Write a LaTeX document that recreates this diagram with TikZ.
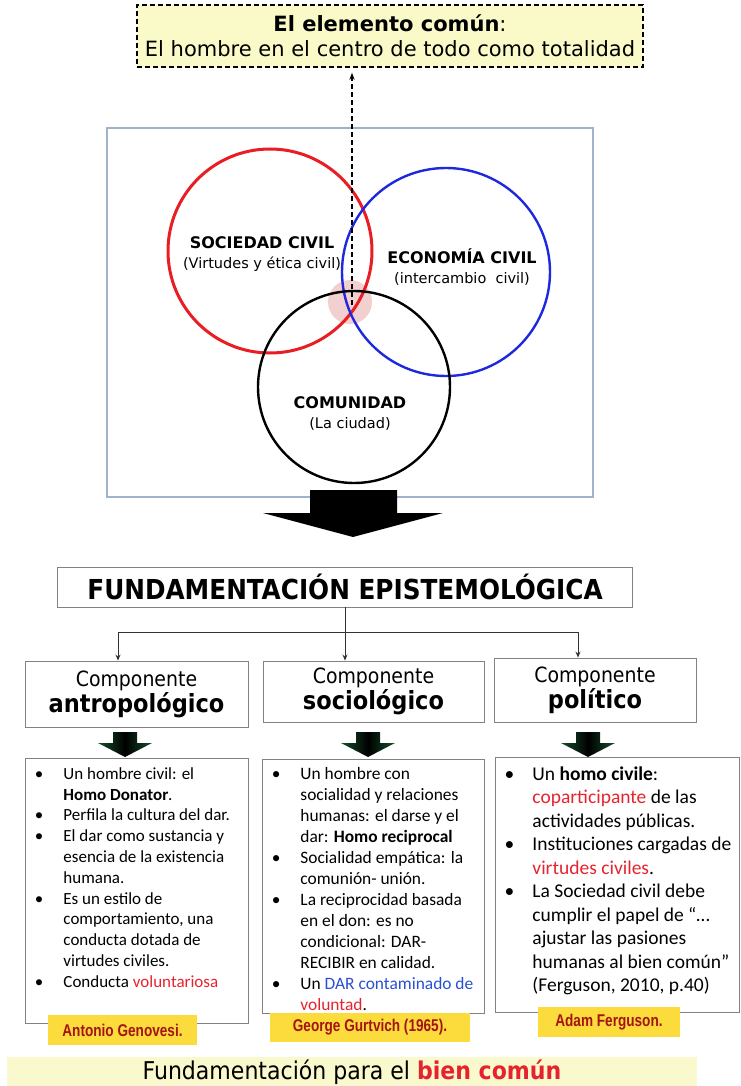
\documentclass[tikz,border=0pt]{standalone}
\usepackage{fontspec}
\usepackage{enumitem}
\usetikzlibrary{arrows.meta,positioning}
\setmainfont{Carlito}
\newfontfamily\verdfont{DejaVu Sans}
\newfontfamily\tahfont{DejaVu Sans Condensed}
\newfontfamily\arialfont{Liberation Sans}

\definecolor{notaamarilla}{RGB}{250,250,200}
\definecolor{marco}{RGB}{160,178,205}
\definecolor{rojocirc}{RGB}{232,30,36}
\definecolor{azulcirc}{RGB}{30,40,220}
\definecolor{rosado}{RGB}{240,196,196}
\definecolor{etiqueta}{RGB}{252,220,60}
\definecolor{granate}{RGB}{165,20,20}
\definecolor{rojotexto}{RGB}{230,35,45}
\definecolor{azultexto}{RGB}{40,80,210}
\definecolor{verdeflecha}{RGB}{20,80,45}
\definecolor{franja}{RGB}{249,249,205}
\definecolor{gristrazo}{RGB}{130,130,130}

\tikzset{
  componente/.style={draw=gristrazo, line width=0.9pt, align=center, inner sep=0pt,
    font=\tahfont\fontsize{21}{26}\selectfont},
  contenido/.style={draw=gristrazo, line width=0.9pt, anchor=north west, inner xsep=8pt, inner ysep=4pt},
  autor/.style={fill=etiqueta, text=granate, inner sep=0pt,
    font=\arialfont\bfseries\fontsize{17}{19}\selectfont},
  conector/.style={draw=black!80, line width=0.8pt, -{Stealth[length=6pt,width=5pt]}},
  rotulo/.style={align=center, font=\verdfont\fontsize{14.5}{20}\selectfont},
}

\begin{document}
\begin{tikzpicture}[x=1pt,y=-1pt]
\useasboundingbox (0,0) rectangle (740,1086);

% nota superior
\node[draw, line width=1.4pt, dash pattern=on 5pt off 3pt, fill=notaamarilla,
      minimum width=506pt, minimum height=62pt, align=center,
      font=\verdfont\fontsize{21}{25}\selectfont] (comun) at (390,36)
      {\textbf{El elemento común}:\\El hombre en el centro de todo como totalidad};

% marco con los tres circulos
\draw[color=marco, line width=1.1pt] (107,128) rectangle (593,497);
\fill[rosado, opacity=0.8] (350,302) circle (22pt);
\draw[color=rojocirc, line width=3pt] (270,251) circle (102pt);
\draw[color=azulcirc, line width=2.4pt] (446,272) circle (104pt);
\draw[color=black, line width=2.4pt] (354,387) circle (96pt);

\node[rotulo] (sociedad) at (262,254)
      {{\bfseries\fontsize{16}{18}\selectfont SOCIEDAD CIVIL}\\(Virtudes y ética civil)};
\node[rotulo] (economia) at (462,267)
      {{\bfseries\fontsize{16}{18}\selectfont ECONOMÍA CIVIL}\\(intercambio\ \ civil)};
\node[rotulo] (comunidad) at (350,414)
      {{\bfseries\fontsize{16}{18}\selectfont COMUNIDAD}\\(La ciudad)};

\coordinate (nexo) at (352,305);
\draw[line width=1.4pt, dash pattern=on 5pt off 3pt, -{Stealth[length=7pt,width=5pt]},
      shorten >=5pt] (nexo) -- (nexo |- comun.south);

% flecha grande
\fill (310,490) -- (397,490) -- (397,513) -- (443,513) -- (353,537)
      -- (263,513) -- (310,513) -- cycle;

% fundamentacion
\node[draw=gristrazo, line width=0.9pt, minimum width=575pt, minimum height=40pt,
      font=\tahfont\bfseries\fontsize{27.5}{30}\selectfont] (fund) at (345,587)
      {FUNDAMENTACIÓN EPISTEMOLÓGICA};

\node[componente, minimum width=223pt, minimum height=66pt] (antro) at (136.5,694)
      {Componente\\{\bfseries\fontsize{25}{28}\selectfont antropológico}};
\node[componente, minimum width=221pt, minimum height=61pt] (socio) at (373.5,691.5)
      {Componente\\{\bfseries\fontsize{25}{28}\selectfont sociológico}};
\node[componente, minimum width=202pt, minimum height=64pt] (poli) at (595,690)
      {Componente\\{\bfseries\fontsize{25}{28}\selectfont político}};

\draw[draw=black!80, line width=0.8pt] (fund.south) -- ++(0,25) coordinate (bifur);
\coordinate (ramaA) at (118,632);
\coordinate (ramaC) at (578,632);
\draw[draw=black!80, line width=0.8pt] (ramaA) -- (ramaC);
\draw[conector] (ramaA) -- (ramaA |- antro.north);
\draw[conector] (bifur) -- (bifur |- socio.north);
\draw[conector] (ramaC) -- (ramaC |- poli.north);

% flechas pequenas
\foreach \xc in {125,368,588}
  \shade[left color=verdeflecha, right color=verdeflecha, middle color=black]
    (\xc-12,732) -- (\xc+12,732) -- (\xc+12,743) -- (\xc+27,743) -- (\xc,757)
    -- (\xc-27,743) -- (\xc-12,743) -- cycle;

% cuadros de contenido
\node[contenido] (antroTxt) at (25,758) {%
  \begin{minipage}[t][257pt][t]{207pt}
  \fontsize{17}{20.8}\selectfont\vspace*{5pt}
  \begin{itemize}[leftmargin=30pt,labelsep=20pt,itemsep=0pt,topsep=0pt,parsep=0pt,partopsep=0pt]
  \item Un hombre civil: el\newline\textbf{Homo Donator}.
  \item Perfila la cultura del dar.
  \item El dar como sustancia y\newline esencia de la existencia\newline humana.
  \item Es un estilo de\newline comportamiento, una\newline conducta dotada de\newline virtudes civiles.
  \item Conducta \textcolor{rojotexto}{voluntariosa}
  \end{itemize}
  \end{minipage}};

\node[contenido] (socioTxt) at (262,759) {%
  \begin{minipage}[t][246pt][t]{206pt}
  \fontsize{17.4}{21}\selectfont\vspace*{4pt}
  \begin{itemize}[leftmargin=30pt,labelsep=20pt,itemsep=0pt,topsep=0pt,parsep=0pt,partopsep=0pt]
  \item Un hombre con\newline socialidad y relaciones\newline humanas: el darse y el\newline dar: \textbf{Homo reciprocal}
  \item Socialidad empática: la\newline comunión- unión.
  \item La reciprocidad basada\newline en el don: es no\newline condicional: DAR-\newline RECIBIR en calidad.
  \item Un \textcolor{azultexto}{DAR contaminado de}\newline\textcolor{rojotexto}{voluntad}.
  \end{itemize}
  \end{minipage}};

\node[contenido] (poliTxt) at (495,757) {%
  \begin{minipage}[t][247pt][t]{228pt}
  \fontsize{19.5}{23.5}\selectfont\vspace*{5pt}
  \begin{itemize}[leftmargin=29pt,labelsep=18pt,itemsep=0pt,topsep=0pt,parsep=0pt,partopsep=0pt]
  \item Un \textbf{homo civile}:\newline\textcolor{rojotexto}{coparticipante} de las\newline actividades públicas.
  \item Instituciones cargadas de\newline\textcolor{rojotexto}{virtudes civiles}.
  \item La Sociedad civil debe\newline cumplir el papel de “…\newline ajustar las pasiones\newline humanas al bien común”\newline (Ferguson, 2010, p.40)
  \end{itemize}
  \end{minipage}};

% autores
\node[autor, minimum width=149pt, minimum height=30pt] (genovesi) at (122.5,1030)
      {\scalebox{0.8}[1]{Antonio Genovesi.}};
\node[autor, minimum width=200pt, minimum height=29pt] (gurvitch) at (370,1027.5)
      {\scalebox{0.8}[1]{George Gurtvich (1965).}};
\node[autor, minimum width=142pt, minimum height=30pt] (ferguson) at (609,1022)
      {\scalebox{0.8}[1]{Adam Ferguson.}};

% franja final
\node[fill=franja, minimum width=690pt, minimum height=30pt, inner sep=0pt,
      font=\tahfont\fontsize{24.5}{27}\selectfont] (bien) at (352,1072)
      {Fundamentación para el \textcolor{rojotexto}{\bfseries bien común}};

\end{tikzpicture}
\end{document}
